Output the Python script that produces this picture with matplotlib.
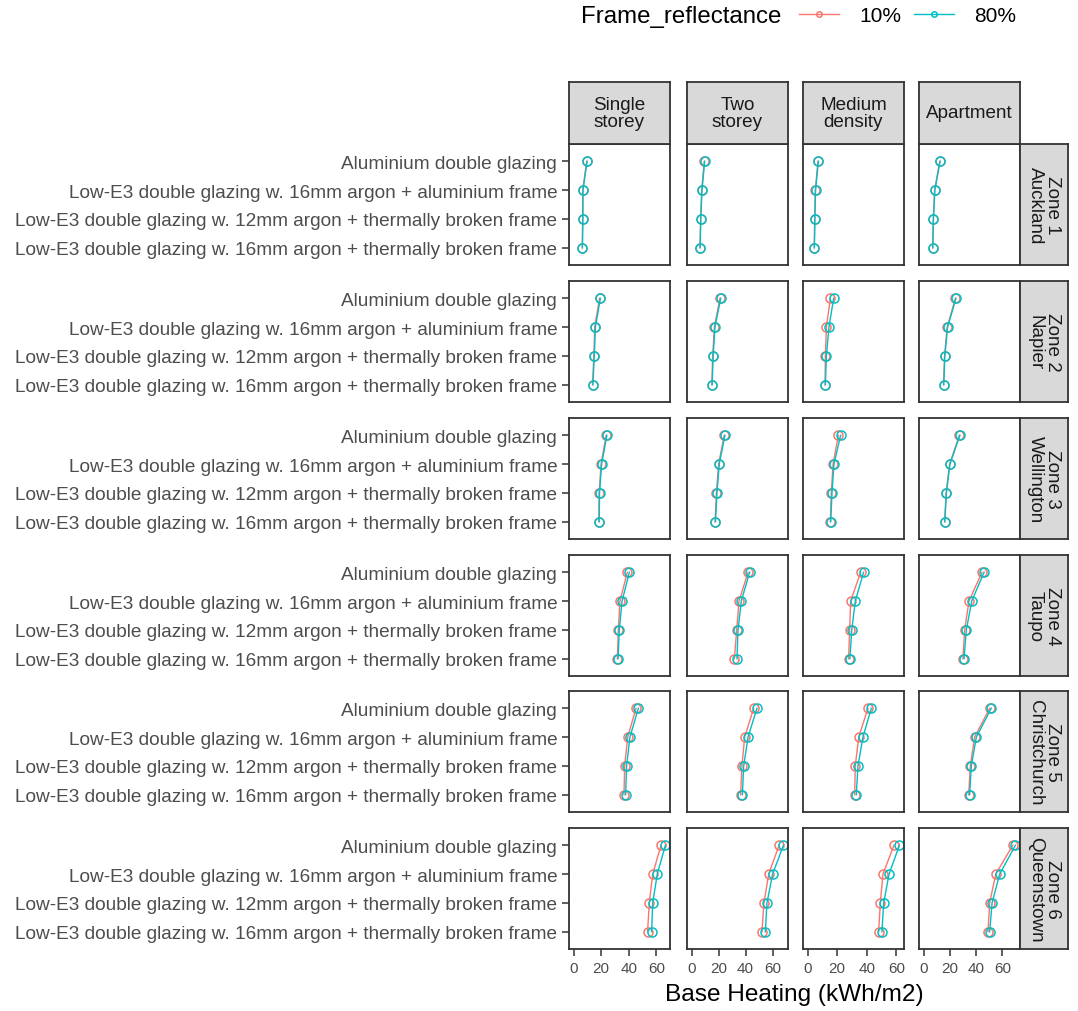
import matplotlib
matplotlib.use("Agg")
import matplotlib.pyplot as plt

plt.rcParams['font.family'] = ['Liberation Sans', 'DejaVu Sans']

# categories (top to bottom)
glazing = ['Aluminium double glazing',
           'Low-E3 double glazing w. 16mm argon + aluminium frame',
           'Low-E3 double glazing w. 12mm argon + thermally broken frame',
           'Low-E3 double glazing w. 16mm argon + thermally broken frame']
buildings = ['Single\nstorey', 'Two\nstorey', 'Medium\ndensity', 'Apartment']
zones = ['Zone 1\nAuckland', 'Zone 2\nNapier', 'Zone 3\nWellington',
         'Zone 4\nTaupo', 'Zone 5\nChristchurch', 'Zone 6\nQueenstown']
refl_labels = ['10%', '80%']

# base heating per zone: [building][glazing]
z1_10 = [[9.5, 6.6, 6.6, 6.3], [9.4, 7.5, 6.7, 6.2], [7.0, 5.2, 4.8, 4.5], [12.3, 8.4, 7.4, 6.9]]
z1_80 = [[9.8, 6.8, 6.7, 6.4], [9.7, 7.7, 6.8, 6.3], [7.3, 5.4, 4.9, 4.6], [12.6, 8.6, 7.5, 7.0]]
z2_10 = [[18.8, 15.3, 14.7, 13.7], [21.0, 16.9, 15.6, 15.0], [15.4, 12.7, 12.0, 11.8], [24.3, 18.0, 16.0, 15.2]]
z2_80 = [[19.4, 15.8, 15.0, 14.0], [21.6, 17.3, 16.0, 15.2], [17.6, 14.4, 12.7, 12.0], [24.7, 18.3, 16.2, 15.4]]
z3_10 = [[23.6, 19.9, 18.5, 18.3], [24.2, 20.0, 18.4, 17.4], [20.8, 17.2, 16.0, 15.4], [27.3, 19.8, 17.2, 16.0]]
z3_80 = [[24.1, 20.3, 18.8, 18.5], [24.7, 20.5, 18.8, 17.7], [22.3, 17.8, 16.5, 15.6], [27.7, 20.1, 17.4, 16.2]]
z4_10 = [[38.9, 33.6, 32.4, 31.7], [41.8, 35.1, 33.4, 31.7], [35.8, 29.1, 28.4, 27.7], [44.5, 34.6, 31.3, 30.0]]
z4_80 = [[40.4, 35.1, 33.1, 32.2], [43.0, 36.8, 34.4, 33.6], [37.8, 32.2, 29.8, 28.6], [46.1, 36.7, 32.6, 30.8]]
z5_10 = [[45.2, 39.2, 37.0, 36.5], [46.0, 39.3, 37.3, 36.3], [40.8, 34.5, 32.2, 31.8], [50.4, 38.9, 35.6, 34.4]]
z5_80 = [[46.9, 40.8, 38.4, 37.7], [48.4, 41.8, 38.6, 37.6], [43.0, 37.4, 34.0, 32.9], [51.6, 40.2, 36.4, 35.1]]
z6_10 = [[63.3, 57.3, 54.8, 53.6], [64.8, 57.1, 53.6, 52.1], [58.3, 50.9, 49.1, 48.0], [68.0, 55.0, 50.4, 49.1]]
z6_80 = [[66.5, 60.6, 57.3, 56.5], [68.0, 60.0, 55.8, 54.6], [62.0, 55.0, 51.4, 50.2], [70.0, 58.0, 52.2, 50.4]]

low = [z1_10, z2_10, z3_10, z4_10, z5_10, z6_10]
high = [z1_80, z2_80, z3_80, z4_80, z5_80, z6_80]

colors = ['#F8766D', '#00BFC4']
W, H = 1078, 1012
fig = plt.figure(figsize=(W / 100, H / 100), dpi=100)

col_left = [569, 687, 803, 919]
pw = 101
row_top = [145, 282, 419, 556, 692, 829]
ph = 121
strip_top = 83
strip_right = 1068

def box(l, t, r, b):
    return [l / W, 1 - b / H, (r - l) / W, (b - t) / H]

edge = '#333333'
ypos = [len(glazing) - i for i in range(len(glazing))]

handles = []
for r in range(len(zones)):
    for c in range(len(buildings)):
        l = col_left[c]
        t = row_top[r]
        ax = fig.add_axes(box(l, t, l + pw, t + ph))
        for k, data in enumerate([low, high]):
            ln, = ax.plot(data[r][c], ypos, color=colors[k], lw=1,
                          marker='o', ms=6.5, mfc='none', mew=1.1)
            if r == 0 and c == 0:
                handles.append(ln)
        hi = max(max(low[z][c] + high[z][c]) for z in range(len(zones)))
        pad = 0.05 * hi
        ax.set_xlim(-pad, hi + pad)
        ax.set_ylim(0.4, len(glazing) + 0.6)
        ax.set_xticks([0, 20, 40, 60])
        ax.set_yticks(ypos)
        for s in ax.spines.values():
            s.set_color(edge)
            s.set_linewidth(1.3)
        ax.tick_params(colors=edge, labelcolor='#4D4D4D', length=5, width=1.1)
        if c == 0:
            ax.set_yticklabels(glazing, fontsize=13.7)
        else:
            ax.tick_params(axis='y', left=False, labelleft=False)
        if r == len(zones) - 1:
            ax.tick_params(axis='x', labelsize=11)
        else:
            ax.tick_params(axis='x', bottom=False, labelbottom=False)

# column strips
for c, name in enumerate(buildings):
    l = col_left[c]
    sx = fig.add_axes(box(l, strip_top, l + pw, row_top[0]))
    sx.set_facecolor('#D9D9D9')
    sx.set_xticks([]); sx.set_yticks([])
    for s in sx.spines.values():
        s.set_color(edge); s.set_linewidth(1.3)
    sx.text(0.5, 0.5, name, ha='center', va='center', fontsize=13.6,
            color='#1A1A1A', transform=sx.transAxes, linespacing=1.0)

# row strips
for r, name in enumerate(zones):
    t = row_top[r]
    sx = fig.add_axes(box(col_left[-1] + pw, t, strip_right, t + ph))
    sx.set_facecolor('#D9D9D9')
    sx.set_xticks([]); sx.set_yticks([])
    for s in sx.spines.values():
        s.set_color(edge); s.set_linewidth(1.3)
    sx.text(0.5, 0.5, name, ha='center', va='center', fontsize=13.6,
            color='#1A1A1A', rotation=270, transform=sx.transAxes,
            linespacing=1.0)

# axis title
fig.text((col_left[0] + col_left[-1] + pw) / 2 / W, 1 - 995 / H,
         'Base Heating (kWh/m2)', ha='center', va='center', fontsize=17.6)

# legend
fig.text(581 / W, 1 - 17 / H, 'Frame_reflectance', ha='left', va='center',
         fontsize=17.3)
fig.legend(handles, refl_labels, ncol=2, loc='center left',
           bbox_to_anchor=(799 / W, 1 - 17 / H), frameon=False,
           fontsize=15, handlelength=1.9, handletextpad=1.0,
           columnspacing=0.6, borderpad=0, borderaxespad=0, markerscale=0.6)

fig.savefig('out.png', dpi=100)
